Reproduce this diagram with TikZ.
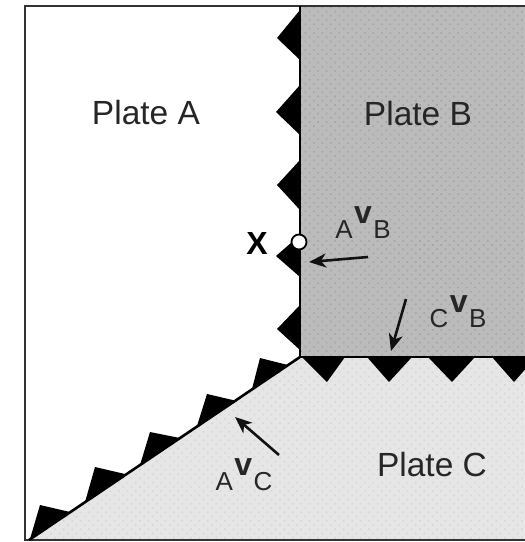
\documentclass[tikz,border=0pt]{standalone}
\usepackage{fontspec}
\setmainfont{Liberation Sans}
\usetikzlibrary{arrows.meta,patterns.meta}
\definecolor{plateB}{HTML}{BBBBBB}
\definecolor{dotB}{HTML}{A4A4A4}
\definecolor{plateC}{HTML}{E6E6E6}
\definecolor{dotC}{HTML}{D6D6D6}
\definecolor{inkK}{HTML}{111111}
\definecolor{textK}{HTML}{262626}
\newcommand{\subf}{\fontsize{26}{26}\selectfont}
\newcommand{\velf}{\fontsize{32}{32}\selectfont\bfseries}
\newcommand{\relv}[2]{{\subf #1}\kern1.5pt\raisebox{15pt}{\velf v}\kern1.5pt{\subf #2}}
\tikzset{
  x=1pt,y=-1pt,
  plate/.style={font=\fontsize{33.5}{33.5}\selectfont,text=textK,inner sep=0pt,anchor=base},
  rel/.style={text=textK,inner sep=0pt,anchor=base},
  motion/.style={draw=inkK,line width=2.6pt,-{Stealth[length=17pt,width=14pt,inset=5pt]}},
  tooth/.style={fill=black,draw=none},
  fault/.style={draw=black,line width=2.6pt},
}
\begin{document}
\begin{tikzpicture}
\useasboundingbox (0,0) rectangle (525,542);
\fill[white] (0,0) rectangle (525,542);
\fill[plateB] (300,7) rectangle (525,357);
\fill[pattern={Dots[distance=6pt,radius=1.1pt,angle=45]},pattern color=dotB] (300,7) rectangle (525,357);
\fill[plateC] (300,357) -- (525,357) -- (525,540) -- (28,540) -- cycle;
\fill[pattern={Dots[distance=6pt,radius=1.1pt,angle=45]},pattern color=dotC] (300,357) -- (525,357) -- (525,540) -- (28,540) -- cycle;
% frame
\draw[draw=black!80,line width=1.8pt] (525,6) -- (25,6) -- (25,540) -- (525,540);
% teeth on the A-B boundary
\foreach \a/\b/\tx/\ty in {10/60/277/38,85/135/276/112,160/210/277/185,235/277/276/256,305/350/277/329}
  \fill[tooth] (300,\a) -- (\tx,\ty) -- (300,\b) -- cycle;
% teeth on the B-C boundary
\foreach \a/\b/\tx in {302/345/327,367/412/389,428/475/452,492/536/514}
  \fill[tooth] (\a,357) -- (\tx,382) -- (\b,357) -- cycle;
% teeth on the A-C boundary
\fill[tooth] (30,539) -- (40,505) -- (70,512) -- cycle;
\fill[tooth] (85,502) -- (95,467) -- (125,474) -- cycle;
\fill[tooth] (140,465) -- (150,432) -- (180,438) -- cycle;
\fill[tooth] (197,426) -- (207,394) -- (237,401) -- cycle;
\fill[tooth] (252,389) -- (260,358) -- (288,365) -- cycle;
% boundaries
\coordinate (j) at (300,357);
\coordinate (top) at (300,6);
\coordinate (ac) at (29,540);
\coordinate (bc) at (525,357);
\draw[fault] (top) -- (j) -- (bc);
\draw[fault] (j) -- (ac);
% labels
\node[plate] (pa) at (146,124) {Plate A};
\node[plate] (pb) at (418,125) {Plate B};
\node[plate] (pc) at (432,476) {Plate C};
\node[text=black,inner sep=0pt,anchor=base,font=\fontsize{32}{32}\selectfont\bfseries] (x) at (257,254) {X};
\node[circle,draw=black,line width=1.8pt,fill=white,minimum size=15pt,inner sep=0pt] (pt) at (299,242) {};
\node[rel] (ab) at (363,238) {\relv{A}{B}};
\node[rel] (cb) at (458,327) {\relv{C}{B}};
\node[rel] (ac2) at (244,490) {\relv{A}{C}};
% velocity arrows
\coordinate (ab1) at (368,257); \coordinate (ab2) at (309,262);
\coordinate (cb1) at (406,299); \coordinate (cb2) at (391,351);
\coordinate (ac1) at (279,455); \coordinate (ac3) at (235,417);
\draw[motion] (ab1) -- (ab2);
\draw[motion] (cb1) -- (cb2);
\draw[motion] (ac1) -- (ac3);
\end{tikzpicture}
\end{document}
